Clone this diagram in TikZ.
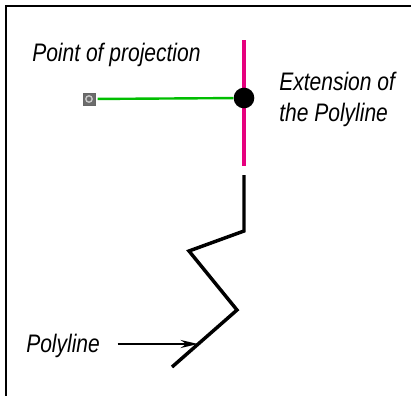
\documentclass[tikz,border=0pt]{standalone}
\usepackage{fontspec}
\setmainfont{Liberation Sans}[FakeStretch=0.83]
\usetikzlibrary{arrows.meta, positioning}

\definecolor{extpink}{RGB}{230,0,126}
\definecolor{projgreen}{RGB}{0,190,0}

\tikzset{
    lbl/.style={inner sep=0, font=\fontsize{19}{24}\selectfont\itshape, anchor=base west},
    polyline/.style={line width=2.6pt, line join=miter},
}

\begin{document}
\begin{tikzpicture}[x=0.75pt, y=-0.75pt]
    \useasboundingbox (0,0) rectangle (411,396);

    % Frame
    \draw[line width=2.1pt] (6,396) -- (6,6) -- (411,6);

    % Extension of the polyline
    \draw[extpink, line width=2.5pt] (244,40) -- (244,166);

    % Point of projection and its projection
    \node[draw=gray!80!black, fill=gray!85!black, minimum size=9pt, inner sep=0, outer sep=2pt] (proj) at (89,99) {};
    \draw[gray!40, line width=1pt] (proj.center) circle (2.4pt);
    \node[circle, fill=black, minimum size=15.5pt, inner sep=0] (ext) at (244,98) {};
    \draw[projgreen, line width=1.8pt] (proj) -- (ext);

    % Polyline
    \draw[polyline] (244,175) -- (244,231) -- (189,251) -- (237,310) -- (172,367);
    \coordinate (hit) at (198,344);

    % labels
    \node[lbl] (projlbl) at (32,61) {Point of projection};
    \node[lbl] (extlbl1) at (279,90) {Extension of};
    \node[lbl] (extlbl2) at (279,121) {the Polyline};
    \node[lbl] (polylbl) at (26,352) {Polyline};

    \draw[-{Stealth[length=13pt, width=6pt]}, line width=1.7pt, shorten <=13pt] (polylbl.east |- hit) -- (hit);

\end{tikzpicture}
\end{document}
